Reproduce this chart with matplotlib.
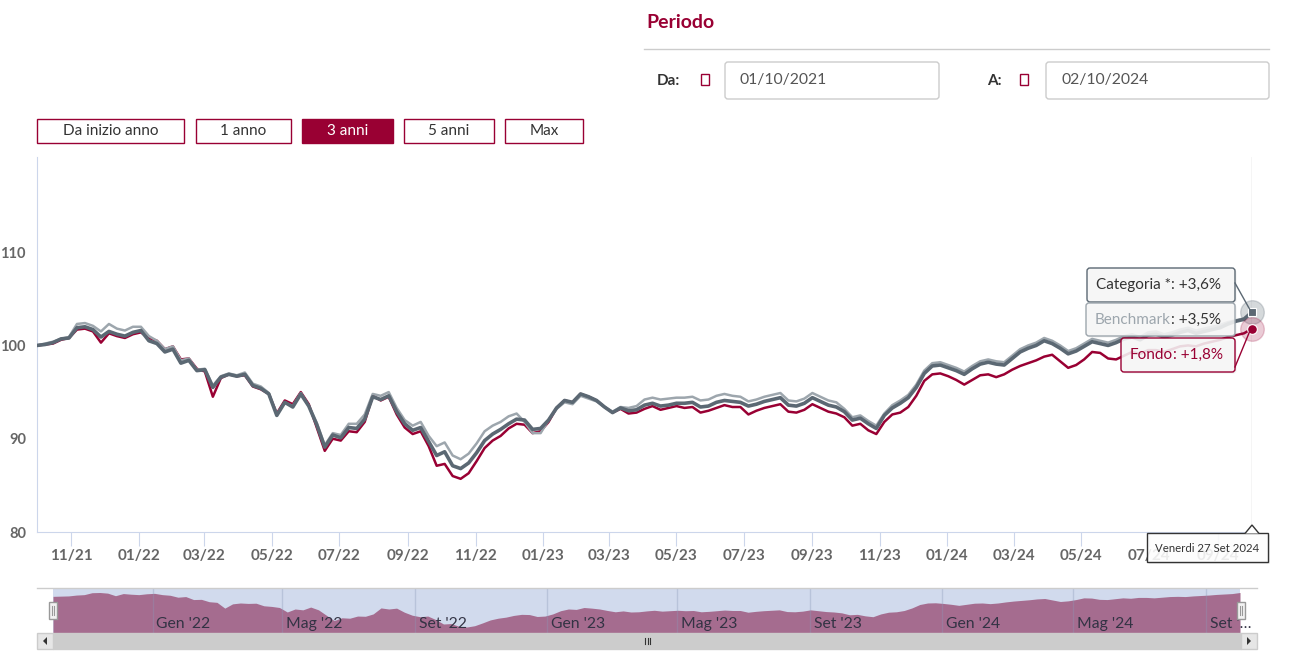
import numpy as np
import pandas as pd
import matplotlib
matplotlib.use('Agg')
import matplotlib.pyplot as plt
import matplotlib.dates as mdates
from matplotlib.patches import Rectangle, FancyBboxPatch, Polygon

plt.rcParams['font.family'] = ['Lato', 'DejaVu Sans']

W, H = 1292, 667
RED = '#990033'
C_CAT = '#5b6873'
C_BEN = '#9da6ad'

# values (base 100), one point roughly every week
categoria = [100.0, 100.1, 100.3, 100.7, 100.8, 101.9, 102.0, 101.7, 100.9, 101.5,
             101.2, 101.0, 101.4, 101.6, 100.5, 100.2, 99.3, 99.6, 98.1, 98.4,
             97.3, 97.4, 95.5, 96.6, 96.9, 96.7, 96.9, 95.7, 95.4, 94.8,
             92.5, 93.9, 93.4, 94.8, 93.5, 91.5, 89.1, 90.4, 90.1, 91.2,
             91.1, 92.1, 94.5, 94.2, 94.6, 92.9, 91.6, 90.9, 91.2, 89.7,
             88.2, 88.6, 87.1, 86.8, 87.4, 88.5, 89.8, 90.5, 91.0, 91.6,
             92.1, 92.0, 91.0, 91.1, 92.0, 93.3, 94.1, 93.9, 94.8, 94.5,
             94.1, 93.4, 92.8, 93.3, 93.0, 93.1, 93.6, 93.8, 93.5, 93.6,
             93.8, 93.8, 93.9, 93.4, 93.5, 93.9, 94.1, 94.0, 93.9, 93.5,
             93.7, 94.0, 94.2, 94.4, 93.6, 93.5, 93.8, 94.4, 94.0, 93.6,
             93.4, 92.9, 92.0, 92.2, 91.6, 91.1, 92.5, 93.3, 93.8, 94.4,
             95.5, 97.0, 97.8, 97.9, 97.6, 97.3, 96.9, 97.5, 98.0, 98.2,
             98.0, 97.9, 98.6, 99.3, 99.7, 100.0, 100.5, 100.2, 99.7, 99.1,
             99.4, 99.9, 100.4, 100.2, 100.0, 100.3, 100.7, 100.9, 100.6, 101.1,
             101.2, 100.9, 101.1, 101.4, 101.6, 101.3, 101.5, 101.7, 101.9, 102.3,
             102.6, 102.8, 103.6]

benchmark = [100.0, 100.2, 100.4, 100.7, 100.9, 102.3, 102.4, 102.1, 101.5, 102.3,
             101.8, 101.6, 102.0, 102.0, 101.0, 100.5, 99.6, 99.9, 98.4, 98.6,
             97.4, 97.5, 95.7, 96.7, 97.0, 96.8, 97.1, 95.9, 95.6, 94.9,
             92.6, 93.9, 93.5, 94.9, 93.5, 91.7, 89.3, 90.6, 90.4, 91.6,
             91.6, 92.6, 94.8, 94.6, 95.0, 93.3, 92.0, 91.4, 91.8, 90.3,
             89.2, 89.6, 88.2, 87.8, 88.4, 89.5, 90.8, 91.4, 91.8, 92.4,
             92.7, 91.8, 90.6, 90.6, 92.0, 93.2, 93.9, 93.7, 94.6, 94.3,
             94.0, 93.4, 92.9, 93.4, 93.3, 93.5, 94.2, 94.4, 94.2, 94.3,
             94.4, 94.4, 94.5, 94.1, 94.2, 94.6, 94.8, 94.6, 94.5, 94.0,
             94.2, 94.5, 94.7, 94.9, 94.1, 94.0, 94.3, 94.9, 94.5, 94.1,
             93.9, 93.2, 92.3, 92.5, 91.9, 91.4, 92.7, 93.6, 94.1, 94.7,
             95.8, 97.3, 98.1, 98.2, 97.9, 97.6, 97.2, 97.8, 98.3, 98.5,
             98.3, 98.2, 98.9, 99.6, 100.0, 100.3, 100.8, 100.5, 100.0, 99.4,
             99.7, 100.2, 100.7, 100.5, 100.3, 100.6, 101.0, 101.2, 100.9, 101.4,
             101.5, 101.2, 101.4, 101.7, 101.9, 101.6, 101.8, 102.0, 102.2, 102.5,
             102.7, 102.9, 103.5]

fondo = [100.0, 100.1, 100.2, 100.6, 100.8, 101.7, 101.8, 101.5, 100.3, 101.3,
         101.0, 100.8, 101.2, 101.4, 100.8, 100.5, 99.6, 99.9, 98.5, 98.6,
         97.5, 97.2, 94.5, 96.5, 96.9, 96.7, 96.8, 95.6, 95.3, 94.8,
         92.7, 94.1, 93.7, 95.0, 93.7, 91.2, 88.7, 90.0, 89.8, 90.8,
         90.7, 91.8, 94.6, 94.1, 94.5, 92.6, 91.2, 90.5, 90.8, 89.2,
         87.1, 87.3, 86.0, 85.7, 86.3, 87.6, 89.0, 89.8, 90.3, 91.1,
         91.6, 91.5, 90.6, 90.8, 91.8, 93.3, 94.1, 93.9, 94.8, 94.5,
         94.1, 93.4, 92.8, 93.2, 92.7, 92.8, 93.2, 93.5, 93.1, 93.3,
         93.5, 93.3, 93.4, 92.8, 93.0, 93.3, 93.6, 93.4, 93.4, 92.6,
         93.0, 93.3, 93.5, 93.7, 92.9, 92.8, 93.1, 93.7, 93.3, 92.9,
         92.7, 92.3, 91.4, 91.6, 90.9, 90.5, 91.8, 92.6, 92.8, 93.4,
         94.6, 96.2, 96.9, 97.0, 96.7, 96.3, 95.8, 96.3, 96.8, 96.9,
         96.6, 96.9, 97.4, 97.8, 98.1, 98.4, 98.8, 99.0, 98.3, 97.6,
         97.9, 98.5, 99.3, 99.2, 98.6, 98.5, 98.9, 99.3, 99.1, 99.5,
         99.5, 99.3, 99.6, 99.9, 100.0, 99.9, 100.2, 100.4, 100.6, 100.9,
         101.1, 101.3, 101.8]

date_from, date_to = '01/10/2021', '02/10/2024'
dates = pd.date_range('2021-10-01', '2024-10-02', periods=len(categoria))

buttons = ['Da inizio anno', '1 anno', '3 anni', '5 anni', 'Max']
active_button = '3 anni'
series_names = ['Categoria *', 'Benchmark', 'Fondo']
series_returns = ['+3,6%', '+3,5%', '+1,8%']
hover_date = 'Venerdi 27 Set 2024'

nav_tick_dates = pd.to_datetime(['2022-01-01', '2022-05-01', '2022-09-01', '2023-01-01', '2023-05-01',
                                 '2023-09-01', '2024-01-01', '2024-05-01', '2024-09-01'])
nav_tick_labels = ["Gen '22", "Mag '22", "Set '22", "Gen '23", "Mag '23",
                   "Set '23", "Gen '24", "Mag '24", "Set '…"]


def px_rect(x, y, w, h):
    return [x / W, 1 - (y + h) / H, w / W, h / H]


fig = plt.figure(figsize=(W / 100, H / 100), dpi=100)

# background layer for the page widgets
bg = fig.add_axes([0, 0, 1, 1])
bg.set_xlim(0, W)
bg.set_ylim(H, 0)
bg.axis('off')

# descender of the cut-off page title
bg.text(245, -3, 'y', fontsize=14, fontweight='bold', color=RED, ha='center', va='baseline')

btn_pos = [(37, 147), (196, 95), (302, 91), (404, 90), (505, 78)]
for (bx, bw), lbl in zip(btn_pos, buttons):
    on = lbl == active_button
    bg.add_patch(Rectangle((bx, 119), bw, 24, fc=RED if on else 'white', ec=RED, lw=1))
    bg.text(bx + bw / 2, 131, lbl, ha='center', va='center', fontsize=11,
            color='white' if on else '#333333')

bg.text(646, 22, 'Periodo', fontsize=14, fontweight='bold', color=RED, va='center')
bg.plot([644, 1269], [49, 49], color='#cccccc', lw=1)

for lx, lbl, ix, boxx, boxw, val in [(657, 'Da:', 701, 725, 214, date_from),
                                     (987, 'A:', 1020, 1046, 223, date_to)]:
    bg.text(lx, 81, lbl, fontsize=11, fontweight='bold', color='#333333', va='center')
    bg.add_patch(Rectangle((ix, 74), 8, 11, fill=False, ec=RED, lw=1))
    bg.add_patch(FancyBboxPatch((boxx, 62), boxw, 37, boxstyle='round,pad=0,rounding_size=3',
                                fc='white', ec='#cccccc', lw=1))
    bg.text(boxx + 15, 80, val, fontsize=11.3, color='#555555', va='center')

# main chart
ax = fig.add_axes(px_rect(37, 157, 1215, 375))
ax.set_xlim(dates[0], dates[-1])
ax.set_ylim(80, 120.2)
ax.patch.set_alpha(0)
for s in ['top', 'right']:
    ax.spines[s].set_visible(False)
for s in ['left', 'bottom']:
    ax.spines[s].set_color('#ccd6eb')
ax.set_yticks([80, 90, 100, 110])
ax.tick_params(axis='y', length=0, pad=8, labelsize=10.5, labelcolor='#666666')
ax.xaxis.set_major_locator(mdates.MonthLocator(bymonth=[1, 3, 5, 7, 9, 11]))
ax.xaxis.set_major_formatter(mdates.DateFormatter('%m/%y'))
ax.tick_params(axis='x', length=10, color='#ccd6eb', pad=2, labelsize=11, labelcolor='#666666')
for t in ax.get_xticklabels() + ax.get_yticklabels():
    t.set_fontweight('bold')

ax.axvline(dates[-1], color='#cccccc', lw=1, zorder=1)
ax.plot(dates, fondo, color=RED, lw=1.8, zorder=2)
ax.plot(dates, benchmark, color=C_BEN, lw=1.8, zorder=3)
ax.plot(dates, categoria, color=C_CAT, lw=2.6, zorder=4)

ax.plot(dates[-1], categoria[-1], 'o', ms=17, color=C_CAT, alpha=0.25, clip_on=False, zorder=5)
ax.plot(dates[-1], fondo[-1], 'o', ms=17, color=RED, alpha=0.2, clip_on=False, zorder=5)
ax.plot(dates[-1], categoria[-1], 's', ms=6, color=C_CAT, mec='white', mew=0.8, clip_on=False, zorder=6)
ax.plot(dates[-1], fondo[-1], 'o', ms=7, color=RED, mec='white', mew=0.8, clip_on=False, zorder=6)

# navigator
nav = fig.add_axes(px_rect(53, 588, 1187, 45))
nav.set_xlim(dates[0], dates[-1])
nav.set_ylim(82.9, 103.9)
nav.set_facecolor('#d1daed')
nav.fill_between(dates, fondo, 82.9, color='#a56c8f', lw=0, zorder=1)
for s in nav.spines.values():
    s.set_visible(False)
nav.set_xticks([])
nav.set_yticks([])
for d, lbl in zip(nav_tick_dates, nav_tick_labels):
    dn = mdates.date2num(d)
    nav.axvline(dn, color=(0.55, 0.6, 0.72, 0.35), lw=1, zorder=2)
    nav.annotate(lbl, xy=(dn, 0.2), xycoords=nav.get_xaxis_transform(), xytext=(2.5, 0),
                 textcoords='offset points', va='center', ha='left', fontsize=11.3,
                 color='#333344', zorder=3)

# foreground layer: scrollbar, handles and tooltips
fg = fig.add_axes([0, 0, 1, 1])
fg.set_xlim(0, W)
fg.set_ylim(H, 0)
fg.axis('off')

fg.plot([37, 1257], [588, 588], color='#cccccc', lw=1)
fg.add_patch(Rectangle((53, 633), 1188, 16, fc='#cccccc', ec='#cccccc', lw=1))
for x0, pts in [(37, [(47, 637), (47, 645), (43, 641)]), (1241, [(1247, 637), (1247, 645), (1251, 641)])]:
    fg.add_patch(Rectangle((x0, 633), 16, 16, fc='#e6e6e6', ec='#cccccc', lw=1))
    fg.add_patch(Polygon(pts, closed=True, fc='#333333', ec='none'))
for gx in [645, 647.5, 650]:
    fg.plot([gx, gx], [638, 644], color='#333333', lw=0.8)
for hx in [49, 1237]:
    fg.add_patch(Rectangle((hx, 602), 8, 17, fc='#f2f2f2', ec='#999999', lw=1))
    for gx in [hx + 3, hx + 5]:
        fg.plot([gx, gx], [606, 615], color='#999999', lw=0.8)


def to_fg(x, y):
    dx, dy = ax.transData.transform((mdates.date2num(x), y))
    return dx, H - dy


p_cat = to_fg(dates[-1], categoria[-1])
p_fon = to_fg(dates[-1], fondo[-1])
fg.plot([1235, p_cat[0] - 2], [283, p_cat[1] - 2], color=C_CAT, lw=1)
fg.plot([1235, p_fon[0] - 2], [367, p_fon[1] + 2], color=RED, lw=1)

tip_fc = (0.97, 0.97, 0.97, 0.88)
boxes = [(1087, 268, 148, 34, C_CAT), (1086, 303, 149, 33, C_BEN), (1121, 338, 114, 34, RED)]
for (bx, by, bw, bh, ec), name, ret in zip(boxes, series_names, series_returns):
    fg.add_patch(FancyBboxPatch((bx + 1.5, by + 1.5), bw, bh, boxstyle='round,pad=0,rounding_size=3',
                                fc=(0, 0, 0, 0.06), ec='none'))
    fg.add_patch(FancyBboxPatch((bx, by), bw, bh, boxstyle='round,pad=0,rounding_size=3',
                                fc=tip_fc, ec=ec, lw=1))
    name_col = {C_CAT: '#333333', C_BEN: C_BEN, RED: RED}[ec]
    val_col = RED if ec == RED else '#333333'
    t1 = fg.text(bx + 9, by + bh / 2, name, fontsize=11, color=name_col, va='center', ha='left')
    fg.annotate(': ' + ret, xy=(1, 0.5), xycoords=t1, fontsize=11, color=val_col,
                va='center', ha='left')

# date tooltip under the crosshair
fg.add_patch(Rectangle((1148.5, 534.5), 121, 29, fc=(0, 0, 0, 0.06), ec='none'))
fg.add_patch(Rectangle((1147, 533), 121, 29, fc=(1, 1, 1, 0.88), ec='#333333', lw=1))
fg.add_patch(Polygon([(1245, 533.5), (p_cat[0], 525), (1259, 533.5)], closed=False,
                     fc='white', ec='#333333', lw=1))
fg.text(1207, 548, hover_date, fontsize=8.2, color='#333333', ha='center', va='center')

fig.savefig('out.png', dpi=100)
